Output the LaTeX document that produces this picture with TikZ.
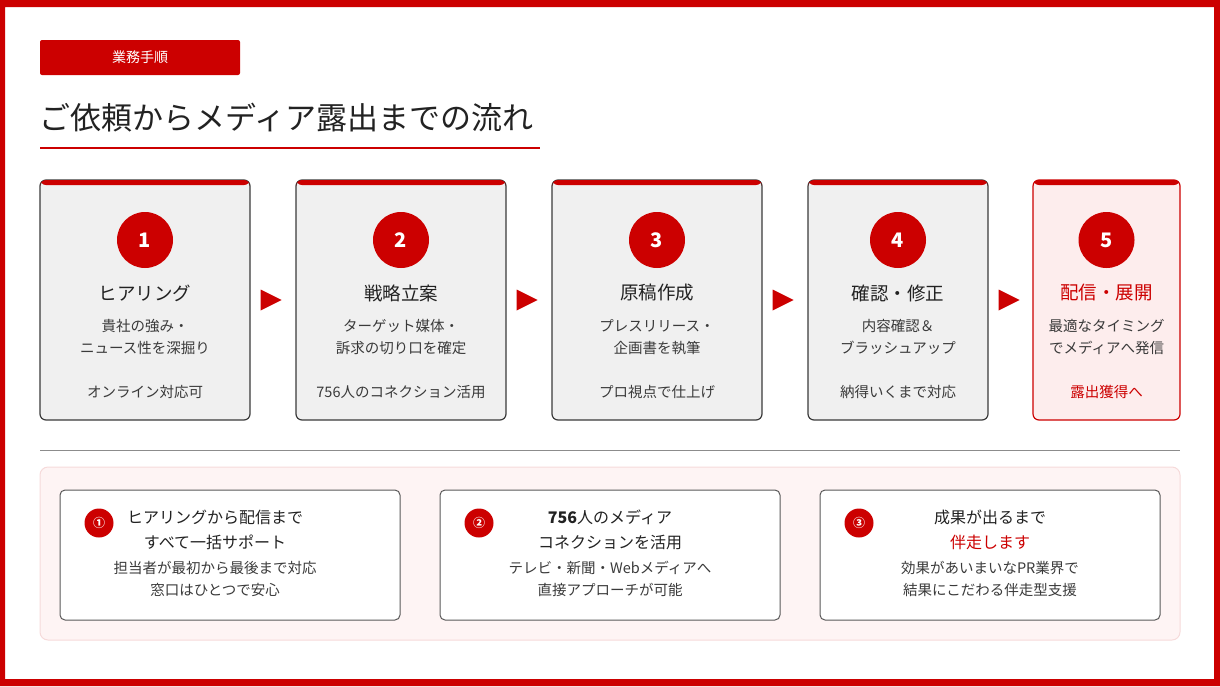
\documentclass[tikz,border=0pt]{standalone}
\usepackage{fontspec}
\setmainfont{Noto Sans CJK JP}
\usepackage{xcolor}
\usetikzlibrary{shapes.geometric, positioning, calc}
\definecolor{prred}{HTML}{CC0000}
\definecolor{stfill}{HTML}{F0F0F0}
\definecolor{stline}{HTML}{3A3A3A}
\definecolor{stpink}{HTML}{FDEDED}
\definecolor{pnfill}{HTML}{FEF4F4}
\definecolor{pnline}{HTML}{F6DADA}
\definecolor{txdark}{HTML}{222222}
\definecolor{txbody}{HTML}{3A3A3A}
\tikzset{
  tagbox/.style   = {rectangle, rounded corners=2pt, fill=prred, text=white,
                     minimum width=200pt, minimum height=35pt, inner sep=0pt,
                     font=\fontsize{14}{14}\selectfont},
  headtitle/.style= {inner sep=0pt, text=txdark, font=\fontsize{31}{31}\selectfont},
  headrule/.style = {draw=prred, line width=2.5pt},
  stbox/.style    = {rectangle, rounded corners=6pt, draw=stline, fill=stfill,
                     line width=1.2pt, minimum height=240pt, inner sep=0pt,
                     postaction={path picture={\fill[prred]
                       (path picture bounding box.north west) rectangle
                       ([yshift=-5pt]path picture bounding box.north east);}}},
  stlast/.style   = {stbox, draw=prred, fill=stpink},
  stnum/.style    = {circle, fill=prred, minimum size=56pt, inner sep=0pt,
                     text=white, font=\fontsize{20}{20}\selectfont\bfseries},
  sttitle/.style  = {inner sep=0pt, text=txdark, font=\fontsize{18.5}{22}\selectfont},
  sttext/.style   = {inner sep=0pt, text=txbody, align=center,
                     font=\fontsize{14.5}{22}\selectfont},
  sttri/.style    = {isosceles triangle, isosceles triangle stretches,
                     minimum width=21pt, minimum height=21pt, inner sep=0pt,
                     fill=prred},
  seprule/.style  = {draw=black!45, line width=0.8pt},
  panel/.style    = {rectangle, rounded corners=8pt, draw=pnline, fill=pnfill,
                     line width=1pt, minimum width=1140pt, minimum height=173pt},
  cardbox/.style  = {rectangle, rounded corners=5pt, draw=black!65, fill=white,
                     line width=1pt, minimum width=340pt, minimum height=130pt},
  cardnum/.style  = {circle, fill=prred, minimum size=29pt, inner sep=0pt,
                     text=white, font=\fontsize{12}{12}\selectfont\bfseries},
  cardhead/.style = {inner sep=0pt, text=txdark, align=center,
                     font=\fontsize{16}{25}\selectfont},
  cardtext/.style = {inner sep=0pt, text=txbody, align=center,
                     font=\fontsize{14.5}{22}\selectfont},
}

\begin{document}
\begin{tikzpicture}[x=1pt, y=-1pt]
  \useasboundingbox (0,0) rectangle (1220,686);
  \fill[prred, even odd rule] (0,0) rectangle (1220,686) (5,7) rectangle (1214,679);

  \node[tagbox] (tag) at (140,57.5) {業務手順};
  \node[headtitle, anchor=west] (title) at (39,118) {ご依頼からメディア露出までの流れ};
  \draw[headrule] (40,148) -- (540,148);

  \node[stbox, minimum width=210pt] (s1) at (145,300) {};
  \node[stnum] (n1) at (145,240) {1};
  \node[sttitle] (t1) at (145,293) {ヒアリング};
  \node[sttext] (d1) at (145,337) {貴社の強み・\\ニュース性を深掘り};
  \node[sttext] (o1) at (145,392) {オンライン対応可};

  \node[stbox, minimum width=210pt] (s2) at (401,300) {};
  \node[stnum] (n2) at (401,240) {2};
  \node[sttitle] (t2) at (401,293) {戦略立案};
  \node[sttext] (d2) at (401,337) {ターゲット媒体・\\訴求の切り口を確定};
  \node[sttext] (o2) at (401,392) {756人のコネクション活用};

  \node[stbox, minimum width=210pt] (s3) at (657,300) {};
  \node[stnum] (n3) at (657,240) {3};
  \node[sttitle] (t3) at (657,293) {原稿作成};
  \node[sttext] (d3) at (657,337) {プレスリリース・\\企画書を執筆};
  \node[sttext] (o3) at (657,392) {プロ視点で仕上げ};

  \node[stbox, minimum width=180pt] (s4) at (898,300) {};
  \node[stnum] (n4) at (898,240) {4};
  \node[sttitle] (t4) at (898,293) {確認・修正};
  \node[sttext] (d4) at (898,337) {内容確認＆\\ブラッシュアップ};
  \node[sttext] (o4) at (898,392) {納得いくまで対応};

  \node[stlast, minimum width=147pt] (s5) at (1106.5,300) {};
  \node[stnum] (n5) at (1106.5,240) {5};
  \node[sttitle, text=prred] (t5) at (1106.5,293) {配信・展開};
  \node[sttext] (d5) at (1106.5,337) {最適なタイミング\\でメディアへ発信};
  \node[sttext, text=prred] (o5) at (1106.5,392) {露出獲得へ};

  \node[sttri] (a1) at (267,300) {};
  \node[sttri] (a2) at (523,300) {};
  \node[sttri] (a3) at (779,300) {};
  \node[sttri] (a4) at (1005,300) {};

  \draw[seprule] (40,450) -- (1180,450);

  \node[panel] (pnl) at (610,553.5) {};
  \node[cardbox] (c1) at (230,555) {};
  \node[cardbox] (c2) at (610,555) {};
  \node[cardbox] (c3) at (990,555) {};

  \node[cardnum] (m1) at (99,523) {①};
  \node[cardhead] (h1) at (215,529.5) {ヒアリングから配信まで\\すべて一括サポート};
  \node[cardtext] (b1) at (215,578.5) {担当者が最初から最後まで対応\\窓口はひとつで安心};

  \node[cardnum] (m2) at (479,523) {②};
  \node[cardhead] (h2) at (610,529.5) {\textbf{756}人のメディア\\コネクションを活用};
  \node[cardtext] (b2) at (610,578.5) {テレビ・新聞・Webメディアへ\\直接アプローチが可能};

  \node[cardnum] (m3) at (859,523) {③};
  \node[cardhead] (h3) at (990,529.5) {成果が出るまで\\\textcolor{prred}{伴走します}};
  \node[cardtext] (b3) at (990,578.5) {効果があいまいなPR業界で\\結果にこだわる伴走型支援};
\end{tikzpicture}
\end{document}
